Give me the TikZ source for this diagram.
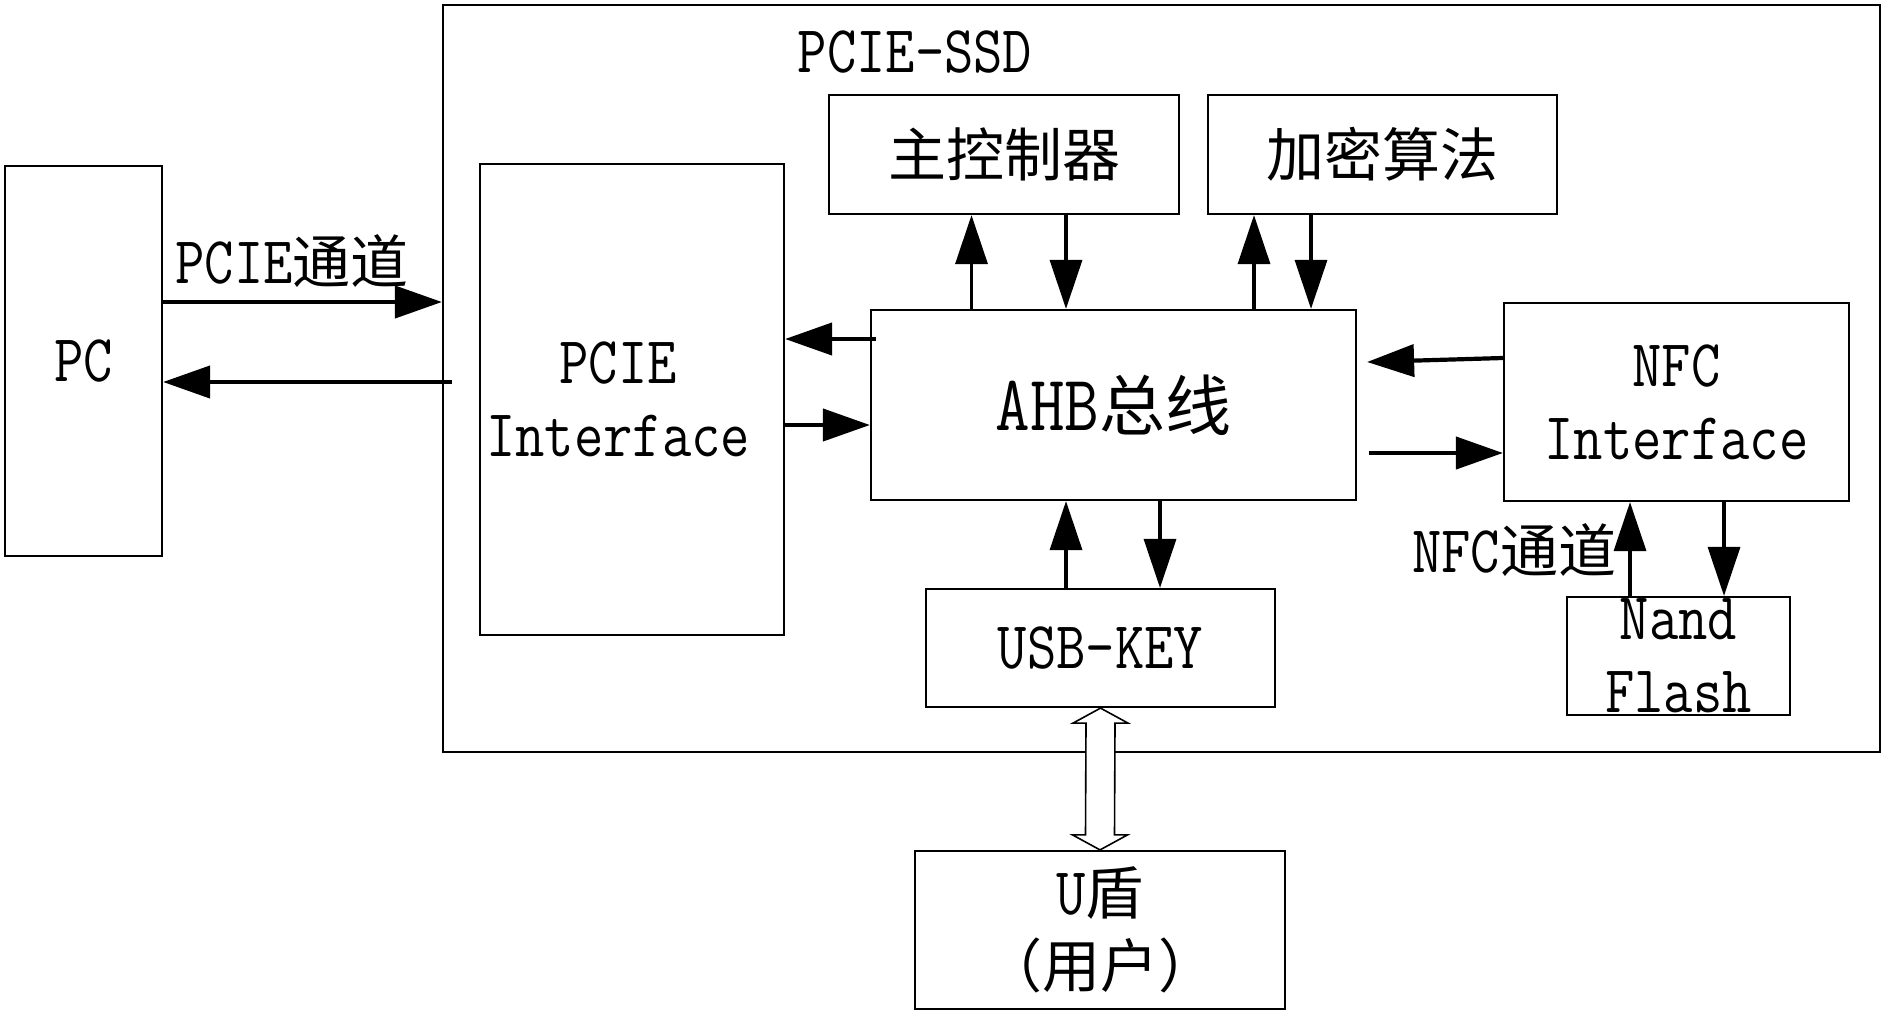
\documentclass[tikz,border=0pt]{standalone}
\usepackage{fontspec}
\usetikzlibrary{arrows.meta,calc}
\setmainfont[FakeStretch=0.85]{Latin Modern Mono}
\newfontfamily\cjfont{Noto Sans CJK SC}
\newcommand{\mylat}{\fontsize{67}{73}\selectfont}
\newcommand{\myzh}[1]{{\cjfont\fontsize{58}{73}\selectfont #1}}
\tikzset{
  box/.style={draw, line width=2.2pt, inner sep=0pt, align=center, font=\mylat},
  lbl/.style={inner sep=0pt, align=center, font=\mylat},
  arrh/.style={line width=4.2pt, -{Triangle[length=47pt,width=32pt]}},
  arrv/.style={line width=3.4pt, -{Triangle[length=49pt,width=32pt]}},
}
\begin{document}
\begin{tikzpicture}[x=1pt,y=-1pt]
\useasboundingbox (0,0) rectangle (1882,1012);
% outer PCIE-SSD box
\node[box, minimum width=1437pt, minimum height=747pt] (ssd) at (1161.5,378.5) {};
\node[lbl] (ssdl) at (915,52) {PCIE-SSD};
% blocks
\node[box, minimum width=157pt, minimum height=390pt] (pc) at (83.5,361) {PC};
\node[box, minimum width=304pt, minimum height=471pt] (pcie) at (632,399.5) {PCIE\hspace*{28pt}\\Interface\hspace*{28pt}};
\node[box, minimum width=350pt, minimum height=119pt] (ctrl) at (1004,154.5) {\myzh{主控制器}};
\node[box, minimum width=349pt, minimum height=119pt] (enc) at (1382.5,154.5) {\myzh{加密算法}};
\node[box, minimum width=485pt, minimum height=190pt, font=\fontsize{79}{86}\selectfont] (ahb) at (1113.5,405) {AHB{\cjfont\fontsize{66}{86}\selectfont 总线}};
\node[box, minimum width=345pt, minimum height=198pt] (nfc) at (1676.5,402) {NFC\\Interface};
\node[box, minimum width=349pt, minimum height=118pt] (usb) at (1100.5,648) {USB-KEY};
\node[box, minimum width=223pt, minimum height=118pt] (nand) at (1678.5,656) {Nand\\Flash};
\node[box, minimum width=370pt, minimum height=158pt] (ud) at (1100,930) {U\myzh{盾}\\\myzh{（用户）}};
% labels
\node[lbl] (pcielbl) at (292,261) {PCIE\myzh{通道}};
\node[lbl] (nfclbl) at (1514,550) {NFC\myzh{通道}};
% PC <-> PCIE
\draw[arrh] (pc.east |- 0,302) -- (ssd.west |- 0,302);
\draw[arrh] ($(ssd.west |- 0,382)+(10,0)$) -- (pc.east |- 0,382);
% PCIE interface <-> AHB
\draw[arrh] ($(ahb.west |- 0,339)+(6,0)$) -- (pcie.east |- 0,339);
\draw[arrh] (pcie.east |- 0,425) -- (ahb.west |- 0,425);
% AHB <-> controller
\draw[arrv] (ahb.north -| 971.5,0) -- (ctrl.south -| 971.5,0);
\draw[arrv] (ctrl.south -| 1066,0) -- (ahb.north -| 1066,0);
% AHB <-> encryption
\draw[arrv] (ahb.north -| 1254,0) -- (enc.south -| 1254,0);
\draw[arrv] (enc.south -| 1311,0) -- (ahb.north -| 1311,0);
% NFC <-> AHB
\draw[arrh] (nfc.west |- 0,358) -- ($(ahb.east |- 0,362)+(10,0)$);
\draw[arrh] ($(ahb.east |- 0,453)+(12,0)$) -- (nfc.west |- 0,453);
% USB-KEY <-> AHB
\draw[arrv] (usb.north -| 1066,0) -- (ahb.south -| 1066,0);
\draw[arrv] (ahb.south -| 1160,0) -- (usb.north -| 1160,0);
% Nand <-> NFC
\draw[arrv] (nand.north -| 1630,0) -- (nfc.south -| 1630,0);
\draw[arrv] (nfc.south -| 1724,0) -- (nand.north -| 1724,0);
% hollow double arrow USB-KEY <-> U盾
\draw[line width=1.6pt, fill=white]
  (usb.south) -- ($(usb.south)+(27.5,15)$) -- ($(usb.south)+(14.5,15)$)
  -- ($(ud.north)+(14.5,-15)$) -- ($(ud.north)+(27.5,-15)$) -- (ud.north)
  -- ($(ud.north)+(-27.5,-15)$) -- ($(ud.north)+(-14.5,-15)$)
  -- ($(usb.south)+(-14.5,15)$) -- ($(usb.south)+(-27.5,15)$) -- cycle;
\end{tikzpicture}
\end{document}
